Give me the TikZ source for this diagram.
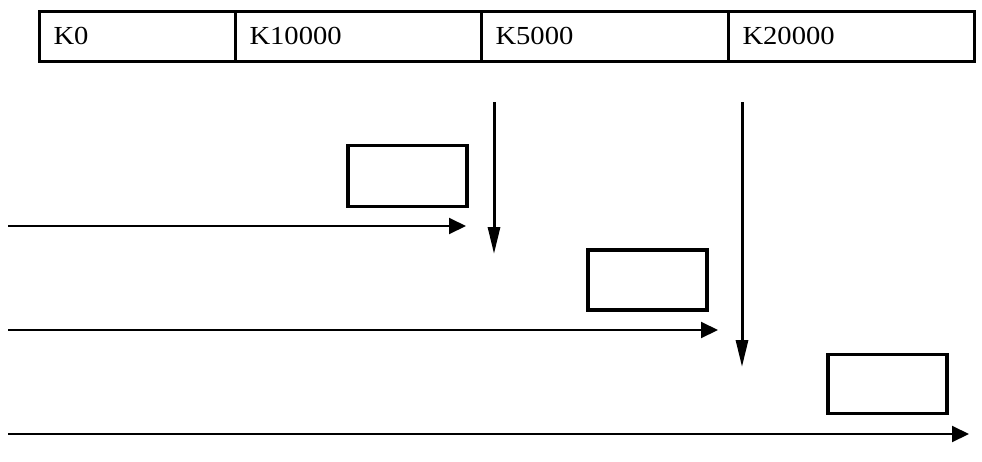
\documentclass[tikz,border=0pt]{standalone}
\usepackage{fontspec}
\setmainfont[FakeStretch=1.1]{Liberation Serif}
\usetikzlibrary{arrows.meta}
\begin{document}
\begin{tikzpicture}[x=1pt,y=-1pt,
  cell/.style={draw, line width=3pt, minimum height=50pt, inner xsep=14pt, inner ysep=0pt,
    anchor=north west, align=left, font=\fontsize{26}{30}\selectfont},
  blk/.style={draw, line width=3.5pt, anchor=north west, inner sep=0pt},
  harrow/.style={line width=2pt, -{Triangle[length=17pt,width=16pt]}},
  varrow/.style={line width=3pt, -{Triangle[length=27pt,width=12pt]}}]
\useasboundingbox (0,0) rectangle (982,461);
% table
\node[cell, text width=168pt] (c1) at (38,10) {\raisebox{1.5pt}{K0}};
\node[cell, text width=218pt] (c2) at (234,10) {\raisebox{1.5pt}{K10000}};
\node[cell, text width=219pt] (c3) at (480,10) {\raisebox{1.5pt}{K5000}};
\node[cell, text width=218pt] (c4) at (727,10) {\raisebox{1.5pt}{K20000}};
% boxes
\node[blk, minimum width=119pt, minimum height=61pt] (b1) at (346,143.5) {};
\node[blk, minimum width=119pt, minimum height=60pt] (b2) at (586,248) {};
\node[blk, minimum width=119pt, minimum height=59pt] (b3) at (826,352.5) {};
% arrow end points
\coordinate (h1s) at (8,226);
\coordinate (h1e) at (466,226);
\coordinate (h2s) at (8,330);
\coordinate (h2e) at (718,330);
\coordinate (h3s) at (8,434);
\coordinate (h3e) at (969,434);
\coordinate (v1s) at (494,102);
\coordinate (v1e) at (494,254);
\coordinate (v2s) at (742,102);
\coordinate (v2e) at (742,367);
\draw[harrow] (h1s) -- (h1e);
\draw[harrow] (h2s) -- (h2e);
\draw[harrow] (h3s) -- (h3e);
\draw[varrow] (v1s) -- (v1e);
\draw[varrow] (v2s) -- (v2e);
\end{tikzpicture}
\end{document}
